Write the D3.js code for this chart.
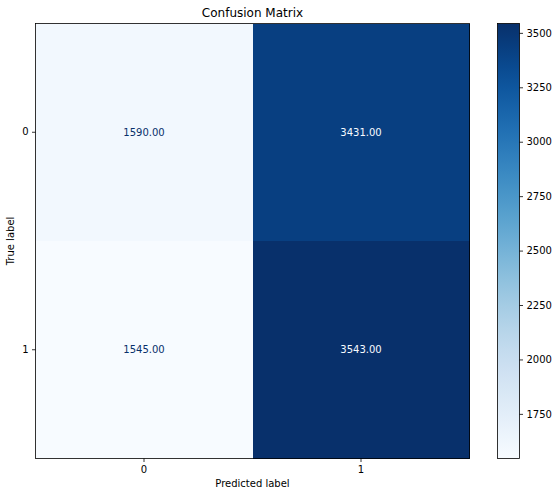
<!DOCTYPE html>
<html>
<head>
<meta charset="utf-8">
<script src="https://cdn.jsdelivr.net/npm/d3@7"></script>
<style>
  body { margin: 0; background: #fff; }
  svg { display: block; font-family: "DejaVu Sans", sans-serif; }
</style>
</head>
<body>
<div id="viz"></div>
<script>
// confusion matrix values, rows = true label, cols = predicted label
var classes = ["0", "1"];
var row0 = [1590, 3431];
var row1 = [1545, 3543];
var cbTicks = [1750, 2000, 2250, 2500, 2750, 3000, 3250, 3500];

var matrix = [row0, row1];

var W = 558, H = 496;
var PLOT_LEFT = 35.5, PLOT_TOP = 23.5, PLOT_W = 434, PLOT_H = 435;
var CB_LEFT = 497.5, CB_W = 22;

var svg = d3.select("#viz")
  .append("svg")
  .attr("width", W)
  .attr("height", H);

var cells = [];
matrix.forEach(function(r, i) {
  r.forEach(function(v, j) {
    cells.push({ row: i, col: j, value: v });
  });
});

var vmin = d3.min(cells, function(d) { return d.value; });
var vmax = d3.max(cells, function(d) { return d.value; });

var color = d3.scaleSequential(d3.interpolateBlues).domain([vmin, vmax]);

var x = d3.scaleBand().domain(classes).range([PLOT_LEFT, PLOT_LEFT + PLOT_W]);
var y = d3.scaleBand().domain(classes).range([PLOT_TOP, PLOT_TOP + PLOT_H]);

// cells (a little overlap so no seams show)
svg.selectAll("rect.cell")
  .data(cells)
  .enter()
  .append("rect")
  .attr("class", "cell")
  .attr("x", function(d) { return x(classes[d.col]); })
  .attr("y", function(d) { return y(classes[d.row]); })
  .attr("width", function(d) { return x.bandwidth() + (d.col == 0 ? 1 : 0); })
  .attr("height", function(d) { return y.bandwidth() + (d.row == 0 ? 1 : 0); })
  .attr("shape-rendering", "crispEdges")
  .style("fill", function(d) { return color(d.value); });

// cell text, light on dark cells
var thresh = (vmin + vmax) / 2;
svg.selectAll("text.val")
  .data(cells)
  .enter()
  .append("text")
  .attr("class", "val")
  .attr("x", function(d) { return x(classes[d.col]) + x.bandwidth() / 2; })
  .attr("y", function(d) { return y(classes[d.row]) + y.bandwidth() / 2; })
  .attr("text-anchor", "middle")
  .attr("dy", "0.35em")
  .style("font-size", "10px")
  .style("fill", function(d) { return d.value < thresh ? color(vmax) : color(vmin); })
  .text(function(d) { return d.value.toFixed(2); });

// frame
svg.append("rect")
  .attr("x", PLOT_LEFT)
  .attr("y", PLOT_TOP)
  .attr("width", PLOT_W)
  .attr("height", PLOT_H)
  .style("fill", "none")
  .style("stroke", "#000")
  .style("stroke-width", 0.8);

// axes
var xAxis = svg.append("g")
  .attr("transform", "translate(0," + (PLOT_TOP + PLOT_H) + ")")
  .call(d3.axisBottom(x).tickSize(3.5).tickPadding(3.5));
var yAxis = svg.append("g")
  .attr("transform", "translate(" + PLOT_LEFT + ",0)")
  .call(d3.axisLeft(y).tickSize(3.5).tickPadding(3.5));

[xAxis, yAxis].forEach(function(a) {
  a.select(".domain").remove();
  a.selectAll("text").style("font-size", "10px").style("font-family", "DejaVu Sans").style("fill", "#000");
  a.selectAll("line").style("stroke", "#000").style("stroke-width", 0.8);
});

// labels
svg.append("text")
  .attr("x", PLOT_LEFT + PLOT_W / 2)
  .attr("y", 17)
  .attr("text-anchor", "middle")
  .style("font-size", "12px")
  .text("Confusion Matrix");

svg.append("text")
  .attr("x", PLOT_LEFT + PLOT_W / 2)
  .attr("y", 487)
  .attr("text-anchor", "middle")
  .style("font-size", "10px")
  .text("Predicted label");

svg.append("text")
  .attr("transform", "translate(14," + (PLOT_TOP + PLOT_H / 2) + ") rotate(-90)")
  .attr("text-anchor", "middle")
  .style("font-size", "10px")
  .text("True label");

// colorbar
var defs = svg.append("defs");
var grad = defs.append("linearGradient")
  .attr("id", "cbgrad")
  .attr("x1", "0").attr("y1", "1")
  .attr("x2", "0").attr("y2", "0");
d3.range(0, 1.0001, 0.05).forEach(function(t) {
  grad.append("stop")
    .attr("offset", t)
    .attr("stop-color", d3.interpolateBlues(t));
});

var cy = d3.scaleLinear().domain([vmin, vmax]).range([PLOT_TOP + PLOT_H, PLOT_TOP]);

svg.append("rect")
  .attr("x", CB_LEFT)
  .attr("y", PLOT_TOP)
  .attr("width", CB_W)
  .attr("height", PLOT_H)
  .style("fill", "url(#cbgrad)")
  .style("stroke", "#000")
  .style("stroke-width", 0.8);

var cbAxis = svg.append("g")
  .attr("transform", "translate(" + (CB_LEFT + CB_W) + ",0)")
  .call(d3.axisRight(cy).tickValues(cbTicks).tickFormat(d3.format("d")).tickSize(3.5).tickPadding(3.5));
cbAxis.select(".domain").remove();
cbAxis.selectAll("text").style("font-size", "10px").style("font-family", "DejaVu Sans").style("fill", "#000");
cbAxis.selectAll("line").style("stroke", "#000").style("stroke-width", 0.8);
</script>
</body>
</html>
